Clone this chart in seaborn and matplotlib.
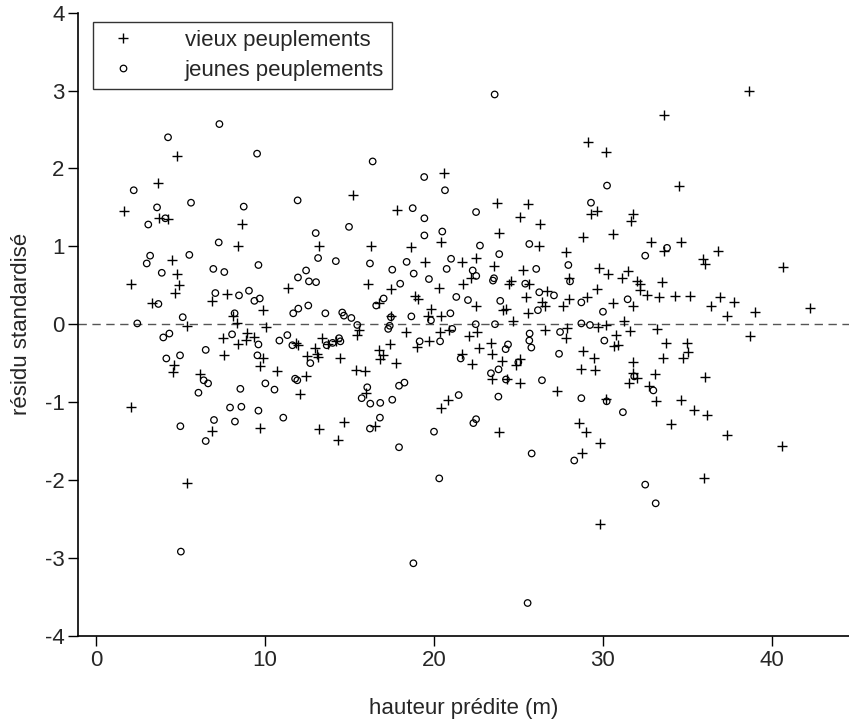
import matplotlib
matplotlib.use("Agg")
import matplotlib.pyplot as plt
from matplotlib.lines import Line2D
import seaborn as sns
import pandas as pd

# vieux peuplements (+)
vieux_x = [4.77, 3.69, 1.67, 3.71, 4.28, 8.64,
           20.61, 15.21, 17.83,
           29.09, 30.2, 23.71, 25.54, 25.11, 26.27, 29.63, 29.27, 31.78, 31.66,
           38.62, 33.59, 34.5,
           8.40, 4.50, 4.77, 2.07, 4.93, 4.67, 7.77, 6.86, 3.29, 5.40, 8.09, 8.34,
           7.49, 8.93, 8.88, 9.37, 8.38, 7.59, 4.64, 4.56, 9.70, 6.14, 2.07, 9.70,
           6.84, 5.39,
           13.18, 16.26, 18.66, 20.39, 19.45, 16.09, 11.34, 17.47, 20.28, 9.86,
           15.56, 15.42, 16.74, 18.89, 19.05, 19.80, 19.62, 17.45, 18.33, 20.39,
           20.37, 20.87, 10.06, 11.83, 11.97, 13.36, 12.94, 13.71, 14.18, 13.08,
           12.46, 13.15, 14.46, 9.90, 10.69, 12.41, 12.09, 15.38, 15.91, 16.74,
           17.0, 16.80, 17.41, 17.75, 18.99, 19.69, 15.98, 20.85, 20.39, 14.69,
           16.51, 13.20, 14.29,
           23.86, 28.8, 30.61, 26.19, 27.79, 21.66, 22.47, 23.53, 25.25, 29.78,
           30.27, 31.48, 31.11, 22.17, 24.56, 24.46, 25.64, 28.0, 21.70, 31.99,
           32.19, 29.63, 32.19, 32.58, 26.71, 25.46, 26.37, 26.57, 25.56, 28.0,
           27.61, 29.07, 30.61, 31.80, 22.47, 24.10, 24.24, 24.65, 29.72, 30.18,
           31.26, 31.60, 22.56, 22.09, 26.55, 27.85, 27.81, 23.36, 23.41, 22.64,
           21.66, 22.27, 24.0, 24.85, 25.07, 28.8, 30.77, 30.67, 30.87, 29.49,
           29.55, 28.70, 31.80, 31.76, 31.99, 31.56, 32.70, 24.34, 23.43, 25.11,
           27.27, 30.18, 28.60,
           23.85, 28.99, 29.80, 28.76, 29.82,
           32.82, 34.62, 33.59, 36.82, 35.92, 36.04, 40.63, 33.49, 33.31, 34.24,
           35.15, 36.37, 36.92, 37.77, 37.32, 39.01, 42.27, 33.21, 38.72, 33.72,
           34.97, 35.03, 33.53, 34.71, 33.10, 36.04, 33.14, 34.60, 35.40, 36.15,
           34.01,
           37.36, 40.57, 35.99]
vieux_y = [2.16, 1.81, 1.46, 1.36, 1.35, 1.29,
           1.94, 1.66, 1.47,
           2.34, 2.21, 1.55, 1.54, 1.38, 1.29, 1.46, 1.41, 1.41, 1.32,
           2.99, 2.68, 1.78,
           1.00, 0.82, 0.65, 0.51, 0.50, 0.40, 0.39, 0.30, 0.27, -0.02, 0.10, 0.01,
           -0.18, -0.11, -0.20, -0.17, -0.26, -0.40, -0.52, -0.62, -0.54, -0.64, -1.06, -1.33,
           -1.37, -2.04,
           1.01, 1.00, 0.99, 1.06, 0.80, 0.52, 0.46, 0.45, 0.46, 0.18,
           -0.08, -0.14, 0.27, 0.36, 0.32, 0.20, 0.10, 0.10, -0.10, 0.10,
           -0.10, -0.08, -0.04, -0.24, -0.27, -0.18, -0.30, -0.25, -0.22, -0.38,
           -0.41, -0.42, -0.44, -0.43, -0.60, -0.67, -0.90, -0.59, -0.60, -0.33,
           -0.40, -0.45, -0.26, -0.50, -0.29, -0.22, -0.88, -0.97, -1.07, -1.25,
           -1.31, -1.35, -1.49,
           1.17, 1.12, 1.16, 1.01, 0.93, 0.80, 0.85, 0.75, 0.70, 0.72,
           0.64, 0.68, 0.59, 0.59, 0.56, 0.51, 0.51, 0.59, 0.52, 0.55,
           0.51, 0.45, 0.44, 0.38, 0.43, 0.35, 0.28, 0.24, 0.14, 0.32,
           0.24, 0.35, 0.27, 0.24, 0.23, 0.18, 0.20, 0.04, -0.03, -0.01,
           0.04, -0.09, -0.10, -0.15, -0.08, -0.05, -0.18, -0.24, -0.38, -0.30,
           -0.38, -0.51, -0.47, -0.52, -0.45, -0.35, -0.14, -0.28, -0.27, -0.44,
           -0.59, -0.58, -0.49, -0.63, -0.69, -0.75, -0.79, -0.71, -0.71, -0.76,
           -0.86, -0.96, -1.27,
           -1.39, -1.38, -1.53, -1.65, -2.57,
           1.06, 1.06, 0.94, 0.94, 0.84, 0.77, 0.74, 0.54, 0.35, 0.36,
           0.36, 0.24, 0.35, 0.29, 0.11, 0.16, 0.21, -0.06, -0.15, -0.24,
           -0.24, -0.36, -0.44, -0.44, -0.64, -0.68, -0.98, -0.97, -1.10, -1.17,
           -1.28,
           -1.42, -1.56, -1.97]

# jeunes peuplements (o)
jeunes_x = [7.30, 4.26, 9.53, 2.23, 5.62, 8.74, 3.61, 4.10, 3.09,
            16.37, 19.42, 20.65, 11.93, 18.74, 19.43,
            23.59, 30.24, 22.49, 29.29,
            7.26, 3.20, 3.00, 5.52, 3.89, 6.94, 7.59, 9.61, 7.06, 8.46, 9.05, 9.37,
            9.69, 3.69, 2.44, 5.13, 8.20, 3.98, 4.34, 8.05, 9.61, 6.49, 9.55, 4.16,
            4.97, 6.37, 6.63, 6.06, 8.54, 7.93, 8.60, 9.61, 4.99, 6.98, 8.22,
            6.49, 5.02,
            14.97, 13.0, 19.43, 20.49, 13.14, 14.19, 12.43, 11.95, 12.60, 13.02,
            16.21, 17.53, 18.38, 18.80, 21.01, 20.75, 19.70, 18.0, 11.67, 11.97,
            12.56, 13.57, 14.57, 14.67, 15.11, 15.46, 16.58, 17.02, 19.82, 18.66,
            17.45, 17.38, 17.29, 20.97, 21.08, 10.85, 11.32, 11.62, 13.65, 14.0,
            14.38, 14.46, 12.68, 19.15, 20.36, 11.78, 11.91, 10.02, 10.56, 16.05,
            15.72, 16.23, 16.82, 17.53, 17.93, 18.25, 11.08, 16.80, 16.21,
            20.0, 17.93, 20.31, 18.78,
            22.72, 25.64, 23.86, 32.50, 27.95, 26.05, 22.29, 22.50, 23.55, 23.49,
            25.40, 28.05, 26.23, 27.10, 26.15, 28.72, 31.46, 30.0, 21.32, 22.01,
            23.92, 22.47, 23.61, 28.72, 29.23, 25.66, 27.46, 25.64, 25.76, 24.38,
            24.24, 21.58, 24.99, 27.40, 30.08, 31.85, 23.37, 23.82, 24.26, 26.39,
            21.46, 23.81, 28.72, 30.22, 31.18, 22.49, 22.33,
            25.78, 28.30, 32.50, 25.54,
            33.79, 32.98, 33.12]
jeunes_y = [2.57, 2.40, 2.19, 1.72, 1.56, 1.51, 1.50, 1.36, 1.28,
            2.09, 1.89, 1.72, 1.59, 1.49, 1.36,
            2.95, 1.78, 1.44, 1.56,
            1.05, 0.88, 0.78, 0.89, 0.66, 0.71, 0.67, 0.76, 0.40, 0.37, 0.43, 0.30,
            0.33, 0.26, 0.01, 0.09, 0.14, -0.17, -0.12, -0.13, -0.26, -0.33, -0.40, -0.44,
            -0.40, -0.72, -0.76, -0.88, -0.83, -1.07, -1.06, -1.11, -1.31, -1.23, -1.25,
            -1.50, -2.92,
            1.25, 1.17, 1.14, 1.19, 0.85, 0.81, 0.69, 0.60, 0.55, 0.54,
            0.78, 0.70, 0.80, 0.65, 0.84, 0.71, 0.58, 0.52, 0.14, 0.20,
            0.24, 0.14, 0.15, 0.11, 0.08, -0.01, 0.24, 0.33, 0.05, 0.10,
            0.09, -0.02, -0.06, 0.14, -0.06, -0.21, -0.14, -0.27, -0.27, -0.24,
            -0.18, -0.22, -0.50, -0.22, -0.22, -0.70, -0.72, -0.76, -0.84, -0.81,
            -0.95, -1.02, -1.01, -0.97, -0.79, -0.75, -1.20, -1.20, -1.34,
            -1.38, -1.58, -1.98, -3.07,
            1.01, 1.03, 0.90, 0.88, 0.76, 0.71, 0.69, 0.62, 0.59, 0.56,
            0.52, 0.55, 0.41, 0.37, 0.18, 0.28, 0.32, 0.16, 0.35, 0.31,
            0.30, 0.00, 0.00, 0.01, -0.01, -0.12, -0.10, -0.21, -0.30, -0.26,
            -0.32, -0.44, -0.49, -0.38, -0.21, -0.67, -0.63, -0.58, -0.71, -0.72,
            -0.91, -0.93, -0.95, -0.99, -1.13, -1.22, -1.27,
            -1.66, -1.75, -2.06, -3.58,
            0.98, -0.85, -2.30]

labels = ["vieux peuplements", "jeunes peuplements"]
x_ticks = [0, 10, 20, 30, 40]
y_ticks = [-4, -3, -2, -1, 0, 1, 2, 3, 4]

df_vieux = pd.DataFrame({"hauteur": vieux_x, "residu": vieux_y})
df_jeunes = pd.DataFrame({"hauteur": jeunes_x, "residu": jeunes_y})

sns.set_style("ticks")
plt.rcParams["font.family"] = ["Liberation Sans", "DejaVu Sans"]
plt.rcParams["axes.unicode_minus"] = False  # tiret simple comme dans R

fig = plt.figure(figsize=(8.49, 7.2), dpi=100)
ax = fig.add_axes([78.3 / 849, 1 - 635.7 / 720, (849 - 78.3) / 849, (635.7 - 12.7) / 720])

ax.axhline(0, color="#555555", lw=1.0, ls=(0, (6, 4)), zorder=1)

sns.scatterplot(data=df_vieux, x="hauteur", y="residu", marker="+", color="black",
                s=55, linewidth=1.0, ax=ax, zorder=3)
sns.scatterplot(data=df_jeunes, x="hauteur", y="residu", marker="o", color="black",
                s=22, linewidth=0.9, ax=ax, zorder=3)
# cercles vides
ax.collections[-1].set_facecolor("none")
ax.collections[-1].set_edgecolor("black")

ax.set_xlim(-1.05, 44.56)
ax.set_ylim(-4, 4)
ax.set_xticks(x_ticks)
ax.set_yticks(y_ticks)
ax.tick_params(axis="both", labelsize=16, length=7, width=1.0, color="black", pad=3)
for s in ["top", "right"]:
    ax.spines[s].set_visible(False)
for s in ["left", "bottom"]:
    ax.spines[s].set_linewidth(1.2)
    ax.spines[s].set_color("black")

ax.set_xlabel("hauteur prédite (m)", fontsize=16, labelpad=20)
ax.set_ylabel("résidu standardisé", fontsize=16, labelpad=9)

handles = [Line2D([], [], marker="+", ls="none", color="black", markersize=7.5, mew=1.0),
           Line2D([], [], marker="o", ls="none", mfc="none", mec="black", markersize=4.7, mew=0.9)]
leg = ax.legend(handles, labels, loc="upper left", bbox_to_anchor=(92.7 / 849, 1 - 22.3 / 720),
                bbox_transform=fig.transFigure, borderaxespad=0, fontsize=16, frameon=True,
                fancybox=False, edgecolor="black", handlelength=2.0, handletextpad=1.8,
                labelspacing=0.4, borderpad=0.35)
leg.get_frame().set_linewidth(1.0)

fig.savefig("out.png", dpi=100)
